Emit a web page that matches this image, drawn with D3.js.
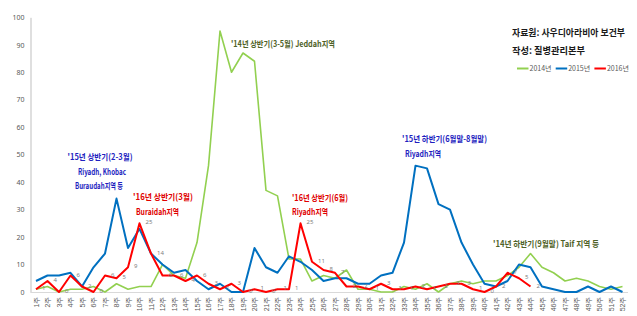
<!DOCTYPE html>
<html>
<head>
<meta charset="utf-8">
<script src="https://cdnjs.cloudflare.com/ajax/libs/d3/7.8.5/d3.min.js"></script>
<style>
body{margin:0;background:#fff}
svg{display:block;font-family:"Noto Sans CJK KR","Noto Sans",sans-serif}
</style>
</head>
<body>
<script>
let weeks = ["1주","2주","3주","4주","5주","6주","7주","8주","9주","10주","11주","12주","13주",
  "14주","15주","16주","17주","18주","19주","20주","21주","22주","23주","24주","25주","26주",
  "27주","28주","29주","30주","31주","32주","33주","34주","35주","36주","37주","38주","39주",
  "40주","41주","42주","43주","44주","45주","46주","47주","48주","49주","50주","51주","52주"]

let cases2014 = [1,2,0,1,1,2,0,3,1,2,2,10,6,5,18,46,95,80,87,84,37,35,12,12,4,6,5,8,1,1,
  0,0,2,1,3,0,3,4,3,4,4,6,9,14,9,7,4,5,4,2,1,2]
let cases2015 = [4,6,6,7,2,9,14,34,16,23,14,10,7,8,4,1,3,0,0,16,9,7,13,11,8,4,5,5,3,3,
  6,7,18,46,45,32,30,18,10,3,2,4,10,9,2,1,0,0,2,0,2,0]
let cases2016 = [1,4,0,6,2,0,6,5,9,25,14,6,6,4,6,3,1,3,0,1,0,1,1,25,11,8,7,2,2,1,
  3,1,1,2,1,2,3,3,1,0,2,7,5,2]

let yTicks = [0,10,20,30,40,50,60,70,80,90,100]
let seriesNames = ["2014년","2015년","2016년"]
let seriesColors = ["#92d050","#0070c0","#ff0000"]

let sourceLines = ["자료원: 사우디아라비아 보건부","작성: 질병관리본부"]

// note texts: [text, x, y, anchor, width, color]
let notes = [
  ["'15년 상반기(2-3월)", 100, 160, "middle", 65, "#1f1fbf"],
  ["Riyadh, Khobac", 102, 175, "middle", 48, "#1f1fbf"],
  ["Buraudah지역 등", 99, 189, "middle", 48, "#1f1fbf"],
  ["'16년 상반기(3월)", 133, 200, "start", 60, "#e00000"],
  ["Buraidah지역", 136, 215, "start", 43, "#e00000"],
  ["'14년 상반기(3-5월) Jeddah지역", 231, 47, "start", 104, "#4f6228"],
  ["'16년 상반기(6월)", 292, 200.5, "start", 56, "#e00000"],
  ["Riyadh지역", 292, 215, "start", 36, "#e00000"],
  ["'15년 하반기(6월말-8월말)", 402, 141.5, "start", 85, "#1f1fbf"],
  ["Riyadh지역", 405, 156.5, "start", 36, "#1f1fbf"],
  ["'14년 하반기(9월말) Taif 지역 등", 493, 247, "start", 106, "#4f6228"]
]

let w = 637
let h = 316

let svg = d3.select("body").append("svg")
  .attr("width", w)
  .attr("height", h)

let xScale = d3.scalePoint().domain(weeks).range([36, 622.5])
let yScale = d3.scaleLinear().domain([0, 100]).range([292, 17.3])

// axes
let yAxis = d3.axisLeft(yScale).tickValues(yTicks).tickSize(0).tickPadding(6)
let gy = svg.append("g")
  .attr("transform", "translate(30.5,0)")
  .call(yAxis)
gy.select(".domain").attr("stroke", "#bfbfbf")
gy.selectAll("text").attr("fill", "#595959").style("font-size", "7px").style("font-family", "'Noto Sans',sans-serif")

let xAxis = d3.axisBottom(xScale).tickSize(0)
let gx = svg.append("g")
  .attr("transform", "translate(0,292.5)")
  .call(xAxis)
gx.select(".domain").attr("stroke", "#d9d9d9").attr("d", "M30.5,0H628")
gx.selectAll("text")
  .attr("fill", "#595959")
  .style("font-size", "7px")
  .attr("transform", "rotate(-90)")
  .attr("x", -4)
  .attr("y", 0)
  .attr("dy", "0.35em")
  .style("text-anchor", "end")

// lines
let line = d3.line()
  .x((d, i) => xScale(weeks[i]))
  .y(d => yScale(d))

let allSeries = [cases2014, cases2015, cases2016]
allSeries.forEach((s, k) => {
  svg.append("path")
    .datum(s)
    .attr("d", line)
    .attr("fill", "none")
    .attr("stroke", seriesColors[k])
    .attr("stroke-width", k == 0 ? 1.6 : 2)
    .attr("stroke-linejoin", "round")
})

// 2016 value labels
svg.selectAll(".lbl")
  .data(cases2016)
  .enter()
  .append("text")
  .attr("class", "lbl")
  .attr("x", (d, i) => xScale(weeks[i]) + 6)
  .attr("y", d => yScale(d) + 1)
  .attr("fill", "#7f7f7f")
  .style("font-size", "6px")
  .style("font-family", "'Noto Sans',sans-serif")
  .text(d => d)

// notes
svg.selectAll(".note")
  .data(notes)
  .enter()
  .append("text")
  .attr("class", "note")
  .attr("x", d => d[1])
  .attr("y", d => d[2])
  .attr("text-anchor", d => d[3])
  .attr("textLength", d => d[4])
  .attr("lengthAdjust", "spacingAndGlyphs")
  .attr("fill", d => d[5])
  .style("font-size", "8.5px")
  .style("font-weight", "bold")
  .text(d => d[0])

// source
svg.selectAll(".src")
  .data(sourceLines)
  .enter()
  .append("text")
  .attr("class", "src")
  .attr("x", 512)
  .attr("y", (d, i) => 36 + i * 17.5)
  .attr("textLength", (d, i) => i == 0 ? 113 : 73)
  .attr("lengthAdjust", "spacingAndGlyphs")
  .attr("fill", "#1a1a1a")
  .style("font-size", "9.5px")
  .style("font-weight", "bold")
  .text(d => d)

// legend
let legend = svg.append("g").attr("transform", "translate(517,68.5)")
seriesNames.forEach((name, k) => {
  legend.append("line")
    .attr("x1", k * 38.7)
    .attr("x2", k * 38.7 + 11.5)
    .attr("y1", 0)
    .attr("y2", 0)
    .attr("stroke", seriesColors[k])
    .attr("stroke-width", 2)
  legend.append("text")
    .attr("x", k * 38.7 + 12.5)
    .attr("y", 2.5)
    .attr("fill", "#595959")
    .style("font-size", "7px")
    .text(name)
})
</script>
</body>
</html>
